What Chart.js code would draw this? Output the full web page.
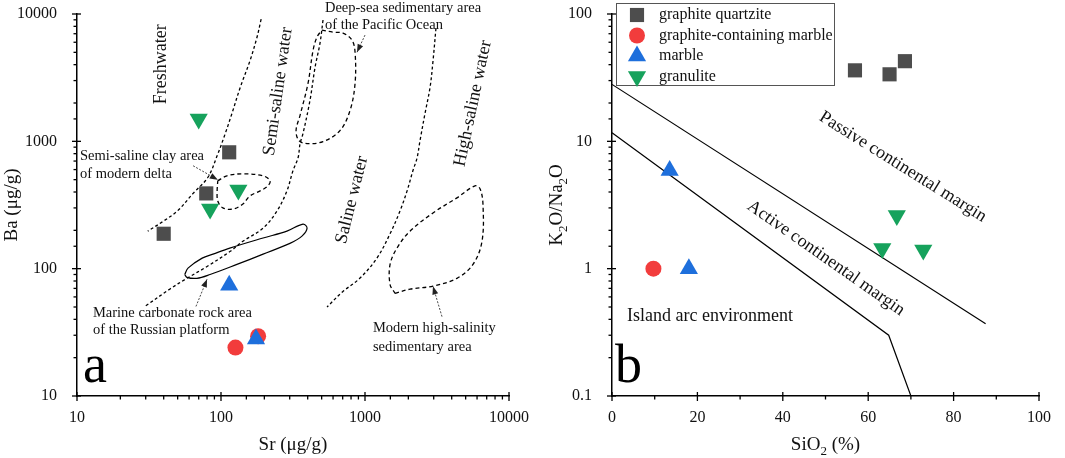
<!DOCTYPE html>
<html>
<head>
<meta charset="utf-8">
<script src="https://cdn.jsdelivr.net/npm/chart.js@4.4.1/dist/chart.umd.min.js"></script>
<style>
  body { margin: 0; background: #fff; }
  #wrap { position: relative; width: 1065px; height: 458px; overflow: hidden; }
  #chartA { position: absolute; left: 0; top: 0; }
  #chartB { position: absolute; left: 530px; top: 0; }
</style>
</head>
<body>
<div id="wrap">
  <canvas id="chartA" width="530" height="458"></canvas>
  <canvas id="chartB" width="535" height="458"></canvas>
</div>
<script>
const SERIF = "'Liberation Serif', 'Times New Roman', serif";

// ---- panel a : Sr (x) vs Ba (y), ug/g ----
const quartziteSrBa = [[114, 820], [79, 390], [40, 188]];
const carbMarbleSrBa = [[126, 24], [181, 29.5]];
const marbleSrBa = [[114, 74], [175, 28]];
const granuliteSrBa = [[70, 1500], [132, 415], [84, 294]];

// boundary curves
const freshBoundary = [[190, 9100], [178, 6600], [159, 4300], [136, 2650], [119, 1650], [107, 1150],
  [94, 770], [81, 520], [64, 390], [50, 285], [40, 237], [31, 197]];
const salineBoundary = [[511, 8970], [487, 5900], [450, 3820], [415, 2100], [371, 1150], [354, 960],
  [343, 743], [316, 587], [287, 408], [245, 284], [196, 208], [142, 164], [116, 137], [80, 104],
  [58, 84], [44, 69], [30, 51]];
const highSalineBoundary = [[3110, 7750], [2970, 4335], [2830, 2655], [2610, 1655], [2410, 1013],
  [2300, 743], [2150, 587], [1960, 408], [1750, 284], [1490, 187], [1210, 121], [920, 84],
  [700, 66], [545, 50]];
const pacificArea = [[502, 7480], [600, 7210], [703, 7080], [812, 6240], [853, 5010], [853, 2850],
  [787, 1746], [670, 1213], [511, 995], [396, 960], [348, 1013], [332, 1213], [354, 1600],
  [402, 2850], [436, 5200], [464, 6580], [502, 7480]];
const deltaClayArea = [[95, 490], [110, 536], [142, 556], [196, 536], [219, 490], [212, 447],
  [187, 408], [159, 373], [142, 322], [121, 294], [103, 300], [95, 340], [94, 408], [95, 490]];
const russianCarbArea = [[56, 90], [59, 101], [74, 121], [88, 130], [115, 145], [196, 174],
  [287, 197], [371, 224], [396, 208], [365, 180], [301, 158], [196, 130], [129, 108], [84, 90],
  [68, 84], [58, 85.5], [56, 90]];
const highSalinityArea = [[1616, 64], [2053, 69], [2967, 73], [4350, 84], [5623, 108], [6494, 164],
  [6594, 322], [6290, 424], [5805, 447], [4350, 360], [2967, 274], [2053, 197], [1667, 145],
  [1493, 108], [1493, 75], [1616, 64]];
const arrowPacific = [[1000, 6830], [880, 5010]];
const arrowDelta = [[64, 643], [95, 499]];
const arrowRussian = [[67, 50.5], [80, 82.5]];
const arrowHighSal = [[3425, 42], [2967, 72.6]];

const srTicks = [10, 100, 1000, 10000];
const baTicks = [10, 100, 1000, 10000];

// ---- panel b : SiO2 (x) vs K2O/Na2O (y) ----
const quartziteSiK = [[56.9, 36.1], [65, 33.6], [68.6, 42.6]];
const carbMarbleSiK = [[9.7, 1]];
const marbleSiK = [[13.5, 5.9], [18, 1]];
const granuliteSiK = [[66.7, 2.62], [63.3, 1.44], [72.9, 1.40]];
const passiveBoundary = [[0, 28], [87.5, 0.37]];
const activeBoundary = [[0, 11.7], [64.8, 0.3], [70, 0.1]];

const siTicks = [0, 20, 40, 60, 80, 100];
const kTicks = [0.1, 1, 10, 100];

const sampleNames = ['graphite quartzite', 'graphite-containing marble', 'marble', 'granulite'];

// ---- helpers ----
const toXY = arr => arr.map(p => ({ x: p[0], y: p[1] }));
const isLabelled = (v, list) => list.some(t => Math.abs(v - t) <= Math.abs(t) * 1e-6 + 1e-9);
const tickText = v => (v >= 1 || v === 0) ? String(Math.round(v)) : v.toFixed(1);

const styles = [
  { pointStyle: 'rect', radius: 10, rotation: 0, color: '#4d4d4d' },
  { pointStyle: 'circle', radius: 8, rotation: 0, color: '#f23c3c' },
  { pointStyle: 'triangle', radius: 10.5, rotation: 0, color: '#1e6fdc' },
  { pointStyle: 'triangle', radius: 10.5, rotation: 180, color: '#16a25c' }
];

function samples(i, data, order) {
  const s = styles[i];
  return {
    label: sampleNames[i], inLegend: true, data: toXY(data), order: order,
    pointStyle: s.pointStyle, pointRadius: s.radius, pointRotation: s.rotation,
    pointHoverRadius: s.radius, backgroundColor: s.color, borderColor: s.color, borderWidth: 0
  };
}
function curve(data, dash, width) {
  return {
    data: toXY(data), showLine: true, borderColor: '#000', borderWidth: width || 1.3,
    borderDash: dash || [], pointRadius: 0, tension: 0.35, fill: false, order: 10
  };
}
function arrow(data) {
  return {
    data: toXY(data), showLine: true, arrow: true, borderColor: '#333', borderWidth: 0.9,
    borderDash: [2, 1.5], pointRadius: 0, tension: 0, order: 9
  };
}

function drawRich(ctx, str, x, y, rot, size, align) {
  // "_2" makes a subscript 2
  const parts = str.split(/_(\d)/).map((t, i) => ({ t: t, sub: i % 2 === 1 })).filter(p => p.t);
  const big = size + 'px ' + SERIF, small = Math.round(size * 0.68) + 'px ' + SERIF;
  ctx.save();
  ctx.translate(x, y);
  ctx.rotate(rot * Math.PI / 180);
  let w = 0;
  parts.forEach(p => { ctx.font = p.sub ? small : big; w += ctx.measureText(p.t).width; });
  let cx = align === 'left' ? 0 : -w / 2;
  ctx.textBaseline = 'middle';
  ctx.textAlign = 'left';
  ctx.fillStyle = '#111';
  parts.forEach(p => {
    ctx.font = p.sub ? small : big;
    ctx.fillText(p.t, cx, p.sub ? size * 0.32 : 0);
    cx += ctx.measureText(p.t).width;
  });
  ctx.restore();
}

const tickMarks = {
  id: 'tickMarks',
  afterDraw(chart, args, opts) {
    const { ctx, chartArea: a } = chart;
    const xs = chart.scales.x, ys = chart.scales.y;
    ctx.save();
    ctx.strokeStyle = '#000';
    ctx.lineWidth = 1.3;
    xs.ticks.forEach(t => {
      const px = xs.getPixelForValue(t.value);
      const major = isLabelled(t.value, opts.xMajor);
      ctx.beginPath();
      ctx.moveTo(px, a.bottom - (major ? 4 : 0));
      ctx.lineTo(px, a.bottom + (major ? 5 : 3.5));
      ctx.stroke();
    });
    ys.ticks.forEach(t => {
      const py = ys.getPixelForValue(t.value);
      const major = isLabelled(t.value, opts.yMajor);
      ctx.beginPath();
      ctx.moveTo(a.left + (major ? 4 : 0), py);
      ctx.lineTo(a.left - (major ? 5 : 3.5), py);
      ctx.stroke();
    });
    ctx.restore();
  }
};

const arrowHeads = {
  id: 'arrowHeads',
  afterDatasetsDraw(chart) {
    const ctx = chart.ctx;
    chart.data.datasets.forEach((ds, i) => {
      if (!ds.arrow) return;
      const pts = chart.getDatasetMeta(i).data;
      const p1 = pts[pts.length - 2], p2 = pts[pts.length - 1];
      const ang = Math.atan2(p2.y - p1.y, p2.x - p1.x);
      ctx.save();
      ctx.translate(p2.x, p2.y);
      ctx.rotate(ang);
      ctx.fillStyle = '#222';
      ctx.beginPath(); ctx.moveTo(0, 0); ctx.lineTo(-8, -3); ctx.lineTo(-8, 3); ctx.closePath(); ctx.fill();
      ctx.restore();
    });
  }
};

const notes = {
  id: 'notes',
  afterDraw(chart, args, opts) {
    const { ctx, chartArea: a } = chart;
    const xs = chart.scales.x, ys = chart.scales.y;
    (opts.items || []).forEach(n => {
      drawRich(ctx, n.text, xs.getPixelForValue(n.x), ys.getPixelForValue(n.y), n.rot || 0, n.size, n.align);
    });
    // axis titles
    drawRich(ctx, opts.xTitle, (a.left + a.right) / 2, 445, 0, 19);
    drawRich(ctx, opts.yTitle, opts.yTitleX, (a.top + a.bottom) / 2, -90, 19);
    // panel letter
    ctx.save();
    ctx.font = '54px ' + SERIF;
    ctx.fillStyle = '#000';
    ctx.textBaseline = 'alphabetic';
    ctx.fillText(opts.letter, a.left + opts.letterDx, 382);
    ctx.restore();
  }
};

const boxLegend = {
  id: 'boxLegend',
  afterDraw(chart, args, opts) {
    if (!opts.show) return;
    const { ctx, chartArea: a } = chart;
    const left = a.left + 4, top = a.top - 11, w = 218, h = 82;
    ctx.save();
    ctx.fillStyle = '#fff';
    ctx.fillRect(left, top, w, h);
    ctx.strokeStyle = '#555';
    ctx.lineWidth = 1;
    ctx.strokeRect(left + 0.5, top + 0.5, w, h);
    const items = chart.data.datasets.filter(d => d.inLegend);
    items.forEach((d, i) => {
      const cy = a.top + 1 + i * 20.5;
      ctx.fillStyle = d.backgroundColor;
      Chart.helpers.drawPoint(ctx, { pointStyle: d.pointStyle, rotation: d.pointRotation, radius: d.pointRadius, borderWidth: 0 }, left + 21, cy);
      ctx.fillStyle = '#111';
      ctx.font = '16px ' + SERIF;
      ctx.textBaseline = 'middle';
      ctx.textAlign = 'left';
      ctx.fillText(d.label, left + 43, cy);
    });
    ctx.restore();
  }
};

function axis(type, min, max, labels, fitSize, isY, extra) {
  return Object.assign({
    type: type, min: min, max: max,
    border: { display: true, color: '#000', width: 1.5 },
    grid: { display: false },
    ticks: {
      autoSkip: false, maxRotation: 0, color: '#111', padding: isY ? 12 : 4,
      font: { family: SERIF, size: 16 },
      callback: v => isLabelled(v, labels) ? tickText(v) : ''
    },
    afterFit: s => {
      if (isY) s.width = fitSize; else s.height = fitSize;
      s.paddingLeft = 0; s.paddingRight = 0; s.paddingTop = 0; s.paddingBottom = 0;
    }
  }, extra || {});
}

new Chart(document.getElementById('chartA'), {
  type: 'scatter',
  data: {
    datasets: [
      samples(0, quartziteSrBa, 4),
      samples(1, carbMarbleSrBa, 3),
      samples(2, marbleSrBa, 2),
      samples(3, granuliteSrBa, 1),
      curve(freshBoundary, [3, 2.5]),
      curve(salineBoundary, [3, 2.5]),
      curve(highSalineBoundary, [3, 2.5]),
      curve(pacificArea, [4, 3]),
      curve(deltaClayArea, [4, 3]),
      curve(russianCarbArea, [], 1.2),
      curve(highSalinityArea, [4, 3]),
      arrow(arrowPacific), arrow(arrowDelta), arrow(arrowRussian), arrow(arrowHighSal)
    ]
  },
  options: {
    responsive: false, animation: false,
    layout: { padding: { top: 14, right: 21, left: 0, bottom: 0 } },
    scales: {
      x: axis('logarithmic', 10, 10000, srTicks, 62, false),
      y: axis('logarithmic', 10, 10000, baTicks, 77, true)
    },
    plugins: {
      legend: { display: false }, tooltip: { enabled: false },
      tickMarks: { xMajor: srTicks, yMajor: baTicks },
      boxLegend: { show: false },
      notes: {
        xTitle: 'Sr (\u03bcg/g)', yTitle: 'Ba (\u03bcg/g)', yTitleX: 12, letter: 'a', letterDx: 6,
        items: [
          { text: 'Freshwater', x: 38.3, y: 4030, rot: -90, size: 18 },
          { text: 'Semi-saline water', x: 249, y: 2466, rot: -82, size: 18 },
          { text: 'Saline water', x: 812, y: 347, rot: -76, size: 18 },
          { text: 'High-saline water', x: 5623, y: 1985, rot: -78, size: 18 },
          { text: 'Deep-sea sedimentary area', x: 527, y: 11150, size: 14.5, align: 'left' },
          { text: 'of the Pacific Ocean', x: 527, y: 8190, size: 14.5, align: 'left' },
          { text: 'Semi-saline clay area', x: 10.5, y: 771, size: 14.5, align: 'left' },
          { text: 'of modern delta', x: 10.5, y: 556, size: 14.5, align: 'left' },
          { text: 'Marine carbonate rock area', x: 12.9, y: 44.5, size: 14.5, align: 'left' },
          { text: 'of the Russian platform', x: 12.9, y: 32.7, size: 14.5, align: 'left' },
          { text: 'Modern high-salinity', x: 1136, y: 33.9, size: 14.5, align: 'left' },
          { text: 'sedimentary area', x: 1136, y: 24, size: 14.5, align: 'left' }
        ]
      }
    }
  },
  plugins: [tickMarks, arrowHeads, notes, boxLegend]
});

new Chart(document.getElementById('chartB'), {
  type: 'scatter',
  data: {
    datasets: [
      samples(0, quartziteSiK, 4),
      samples(1, carbMarbleSiK, 3),
      samples(2, marbleSiK, 2),
      samples(3, granuliteSiK, 1),
      Object.assign(curve(passiveBoundary, [], 1.2), { tension: 0 }),
      Object.assign(curve(activeBoundary, [], 1.2), { tension: 0 })
    ]
  },
  options: {
    responsive: false, animation: false,
    layout: { padding: { top: 14, right: 26, left: 0, bottom: 0 } },
    scales: {
      x: axis('linear', 0, 100, siTicks, 62, false, {}),
      y: axis('logarithmic', 0.1, 100, kTicks, 82, true)
    },
    plugins: {
      legend: { display: false }, tooltip: { enabled: false },
      tickMarks: { xMajor: siTicks, yMajor: kTicks },
      boxLegend: { show: true },
      notes: {
        xTitle: 'SiO_2 (%)', yTitle: 'K_2O/Na_2O', yTitleX: 27, letter: 'b', letterDx: 3,
        items: [
          { text: 'Passive continental margin', x: 68.1, y: 6.3, rot: 32, size: 18 },
          { text: 'Active continental margin', x: 50.1, y: 1.21, rot: 35, size: 18 },
          { text: 'Island arc environment', x: 3.5, y: 0.42, size: 18, align: 'left' }
        ]
      }
    }
  },
  plugins: [tickMarks, arrowHeads, notes, boxLegend]
});
</script>
</body>
</html>
